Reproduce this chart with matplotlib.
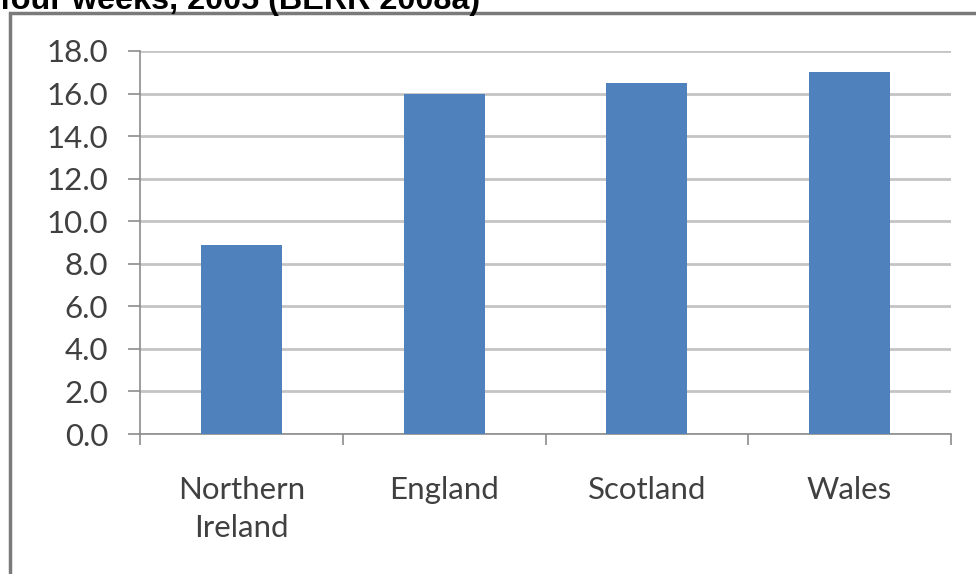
import matplotlib
matplotlib.use('Agg')
import matplotlib.pyplot as plt
from matplotlib.patches import Rectangle
import numpy as np

plt.rcParams['font.family'] = ['Lato', 'DejaVu Sans']

categories = ['Northern\nIreland', 'England', 'Scotland', 'Wales']
values = [8.9, 16.0, 16.5, 17.0]
yticks = [0, 2, 4, 6, 8, 10, 12, 14, 16, 18]
title = 'four weeks, 2005 (BERR 2008a)'

txt = '#404040'
grid_c = '#c4c4c4'
axis_c = '#8c8c8c'

fig = plt.figure(figsize=(9.76, 5.74), dpi=100)
ax = fig.add_axes([140/976, 1-434/574, 811/976, 383/574])

x = np.arange(len(categories))
ax.bar(x, values, width=0.4, color='#4F81BD', zorder=3)

ax.set_xlim(-0.5, len(categories)-0.5)
ax.set_ylim(0, 18)
ax.set_yticks(yticks)
ax.set_yticklabels(['%.1f' % v for v in yticks])
ax.yaxis.grid(True, color=grid_c, linewidth=2, zorder=0)

ax.set_xticks(x)
ax.set_xticklabels(categories, linespacing=1.45)
ax.set_xticks(np.arange(len(categories)+1)-0.5, minor=True)
ax.tick_params(axis='x', which='major', length=0, pad=30, labelsize=22.5, labelcolor=txt)
ax.tick_params(axis='x', which='minor', length=8, width=1.2, color=axis_c)
ax.tick_params(axis='y', length=9, width=1.2, color=axis_c, pad=14, labelsize=22.5, labelcolor=txt)

for s in ['top', 'right']:
    ax.spines[s].set_visible(False)
for s in ['left', 'bottom']:
    ax.spines[s].set_color(axis_c)
    ax.spines[s].set_linewidth(1.2)

# outer frame of the chart (cropped)
fig.patches.append(Rectangle((10/976, -0.1), 1.1, 1-13/574+0.1, transform=fig.transFigure,
                             fill=False, edgecolor='#7a7a7a', linewidth=2.5))

fig.text(0, 1-9/574, title, fontsize=23.3, fontweight='bold', family='Liberation Sans',
         ha='left', va='baseline', color='black')

plt.savefig('out.png', dpi=100)
